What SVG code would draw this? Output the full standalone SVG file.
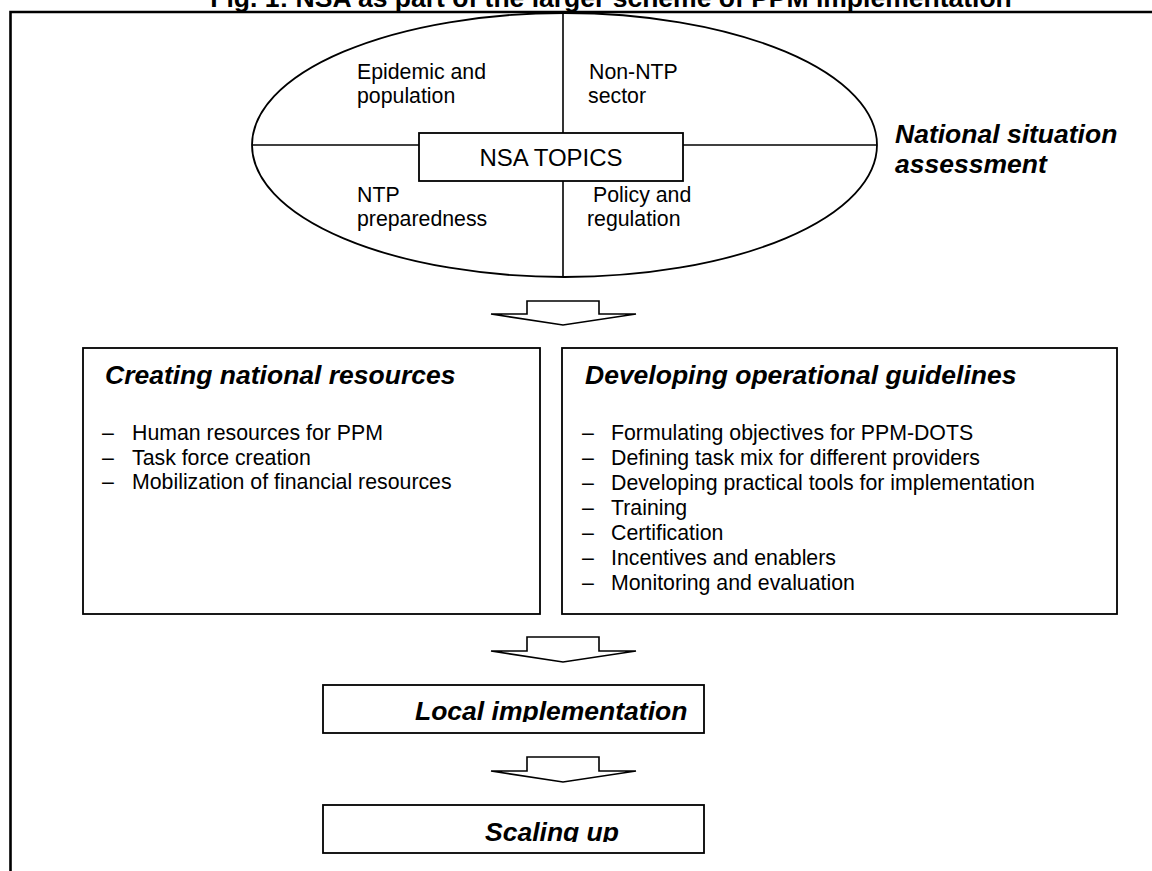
<svg xmlns="http://www.w3.org/2000/svg" width="1152" height="871" viewBox="0 0 1152 871">
<style>
text{font-family:"Liberation Sans",Arial,sans-serif;fill:#000}
.b{font-size:21.3px}
.n{font-size:24px}
.h{font-size:26.5px;font-weight:bold;font-style:italic}
.t{font-size:26.5px;font-weight:bold}
.box{fill:#fff;stroke:#000;stroke-width:1.8}
.ln{stroke:#000;stroke-width:1.6;fill:none}
.arr{fill:#fff;stroke:#000;stroke-width:1.6;stroke-linejoin:miter}
.frame{stroke:#000;stroke-width:2.6;fill:none}
</style>
<defs>
<clipPath id="c1"><rect x="323" y="685" width="381" height="37"/></clipPath>
<clipPath id="c2"><rect x="323" y="805" width="381" height="37"/></clipPath>
</defs>
<rect width="1152" height="871" fill="#fff"/>
<g id="title">
<text class="t" x="611" y="7" text-anchor="middle">Fig. 1: NSA as part of the larger scheme of PPM implementation</text>
</g>
<g id="frame"><path class="frame" d="M10.5,871 V12 H1152"/></g>
<g id="nsa">
<ellipse cx="564.5" cy="145" rx="312.5" ry="132" fill="#fff" stroke="#000" stroke-width="1.8"/>
<line class="ln" x1="563" y1="13" x2="563" y2="277"/>
<line class="ln" x1="252" y1="145" x2="877" y2="145"/>
<rect class="box" x="419" y="133" width="264" height="48"/>
<text class="n" x="551" y="166" text-anchor="middle">NSA TOPICS</text>
<text class="b" x="357" y="79">Epidemic and</text>
<text class="b" x="357" y="103">population</text>
<text class="b" x="589" y="79">Non-NTP</text>
<text class="b" x="588" y="103">sector</text>
<text class="b" x="357" y="202">NTP</text>
<text class="b" x="357" y="226">preparedness</text>
<text class="b" x="593" y="202">Policy and</text>
<text class="b" x="587" y="226">regulation</text>
</g>
<g id="nsa-label">
<text class="h" x="895" y="143">National situation</text>
<text class="h" x="895" y="173">assessment</text>
</g>
<g id="connectors">
<polygon class="arr" points="527,301 599,301 599,314 636,314 563,325 491,314 527,314"/>
<polygon class="arr" points="527,637 599,637 599,651 636,651 563,662 491,651 527,651"/>
<polygon class="arr" points="527,757 599,757 599,771 636,771 563,782 491,771 527,771"/>
</g>
<g id="resources">
<rect class="box" x="83" y="348" width="457" height="266"/>
<text class="h" x="105" y="384">Creating national resources</text>
<text class="b" x="102" y="440">–</text><text class="b" x="132" y="440">Human resources for PPM</text>
<text class="b" x="102" y="464.5">–</text><text class="b" x="132" y="464.5">Task force creation</text>
<text class="b" x="102" y="489">–</text><text class="b" x="132" y="489">Mobilization of financial resources</text>
</g>
<g id="guidelines">
<rect class="box" x="562" y="348" width="555" height="266"/>
<text class="h" x="585" y="384">Developing operational guidelines</text>
<text class="b" x="582" y="440">–</text><text class="b" x="611" y="440">Formulating objectives for PPM-DOTS</text>
<text class="b" x="582" y="465">–</text><text class="b" x="611" y="465">Defining task mix for different providers</text>
<text class="b" x="582" y="490">–</text><text class="b" x="611" y="490">Developing practical tools for implementation</text>
<text class="b" x="582" y="515">–</text><text class="b" x="611" y="515">Training</text>
<text class="b" x="582" y="540">–</text><text class="b" x="611" y="540">Certification</text>
<text class="b" x="582" y="565">–</text><text class="b" x="611" y="565">Incentives and enablers</text>
<text class="b" x="582" y="590">–</text><text class="b" x="611" y="590">Monitoring and evaluation</text>
</g>
<g id="local">
<rect class="box" x="323" y="685" width="381" height="48"/>
<text class="h" x="415" y="720" clip-path="url(#c1)">Local implementation</text>
</g>
<g id="scaling">
<rect class="box" x="323" y="805" width="381" height="48"/>
<text class="h" x="485" y="841" clip-path="url(#c2)">Scaling up</text>
</g>
</svg>
